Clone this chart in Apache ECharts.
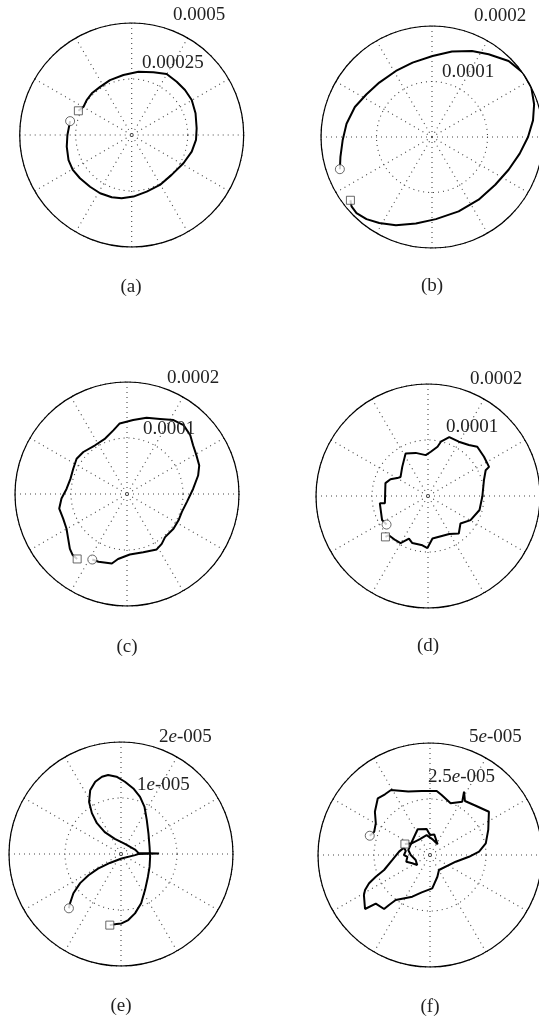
<!DOCTYPE html>
<html><head><meta charset="utf-8">
<script src="https://cdn.jsdelivr.net/npm/echarts@6/dist/echarts.min.js"></script>
<style>html,body{margin:0;padding:0;background:#fff}#chart{width:539px;height:1021px}</style>
</head><body><div id="chart"></div>
<script>
// ---------------- DATA ----------------
const panelNames = ['(a)', '(b)', '(c)', '(d)', '(e)', '(f)'];
const radiusMax = [5e-4, 2e-4, 2e-4, 2e-4, 2e-5, 5e-5];
const outerTickLabels = ['0.0005', '0.0002', '0.0002', '0.0002', '2e-005', '5e-005'];
const innerTickLabels = ['0.00025', '0.0001', '0.0001', '0.0001', '1e-005', '2.5e-005'];
// curve samples given as [real, imaginary] components, in the unit below
const curveUnit = [1e-6, 1e-6, 1e-6, 1e-6, 1e-7, 1e-7];

const curveA = [[-275,62],[-287,0],[-290,-52],[-282,-112],[-263,-156],[-231,-193],[-186,-231],[-141,-260],[-89,-278],[-45,-282],[8,-275],[67,-253],[126,-223],[178,-178],[231,-126],[268,-74],[287,-22],[290,30],[285,97],[268,156],[238,201],[201,238],[156,272],[97,280],[30,282],[-37,268],[-97,245],[-141,215],[-178,186],[-201,156],[-215,126],[-238,108]];

const curveB = [[-166,-58],[-165,-36],[-161,-6],[-154,24],[-139,54],[-118,77],[-95,98],[-65,119],[-35,134],[1,146],[36,154],[72,155],[102,149],[138,137],[164,116],[179,89],[184,59],[182,30],[173,0],[158,-30],[138,-59],[114,-86],[84,-113],[48,-134],[7,-148],[-29,-156],[-65,-159],[-95,-155],[-118,-148],[-136,-137],[-145,-125],[-147,-114]];

const curveC = [[-62,-117],[-51,-121],[-27,-124],[-16,-116],[5,-108],[29,-104],[53,-99],[62,-89],[68,-77],[83,-62],[92,-47],[98,-32],[107,-14],[118,9],[127,33],[129,51],[124,69],[118,87],[113,105],[101,123],[83,132],[59,134],[35,136],[11,132],[-13,126],[-24,114],[-39,99],[-57,87],[-78,75],[-90,63],[-96,45],[-101,27],[-108,9],[-117,-8],[-121,-26],[-114,-44],[-108,-62],[-105,-80],[-102,-98],[-97,-109],[-89,-116]];

const curveD = [[-74,-51],[-82,-43],[-86,-13],[-77,-13],[-76,23],[-67,30],[-55,32],[-49,34],[-46,52],[-40,76],[-22,77],[-4,73],[5,79],[17,88],[23,97],[38,105],[55,97],[73,91],[88,88],[100,70],[109,52],[103,46],[100,29],[97,-1],[92,-25],[76,-43],[58,-49],[55,-67],[38,-68],[8,-76],[-1,-93],[-10,-88],[-28,-84],[-34,-76],[-49,-84],[-58,-79],[-70,-70],[-76,-73]];

const curveE = [[-93,-97],[-91,-88],[-85,-70],[-73,-52],[-58,-38],[-41,-26],[-20,-16],[1,-8],[25,-2],[31,0],[68,1],[31,2],[25,8],[7,18],[-11,27],[-29,39],[-43,55],[-52,73],[-57,93],[-55,114],[-46,129],[-34,138],[-23,141],[-8,138],[7,129],[22,117],[34,102],[42,84],[46,61],[49,37],[51,13],[52,-5],[51,-23],[48,-41],[43,-64],[36,-88],[25,-106],[13,-118],[1,-124],[-8,-125],[-20,-127]];

const curveF = [[-269,86],[-249,104],[-242,142],[-246,193],[-233,253],[-201,271],[-174,290],[-97,283],[-37,286],[30,286],[52,268],[92,231],[144,238],[152,283],[156,241],[204,220],[263,193],[260,112],[249,52],[219,15],[174,-8],[115,-30],[40,-67],[33,-97],[10,-149],[-37,-167],[-79,-186],[-153,-201],[-183,-223],[-205,-241],[-242,-217],[-290,-241],[-295,-179],[-290,-156],[-272,-126],[-242,-97],[-205,-67],[-168,-22],[-138,15],[-116,33],[-108,18],[-116,0],[-101,-8],[-106,-30],[-79,-37],[-57,-45],[-64,-22],[-86,0],[-97,22],[-82,57],[-55,115],[-15,116],[0,89],[19,92],[34,48],[10,71],[-15,89],[-45,71],[-82,52],[-112,49]];

const curves = [curveA, curveB, curveC, curveD, curveE, curveF];

// ---------------- LAYOUT ----------------
const centers = [[131.7,135],[432,137],[127,494],[428,496],[121,854],[430,855]];
const radii = [112,111,112,112,112,112];
const outerLabelPos = [[173,15],[474,16],[167,378],[470,379],[159,737],[469,737]];
const innerLabelPos = [[142,63],[442,72],[143,429],[446,427],[137,785],[428,777]];
const namePos = [[131,287],[432,286],[127,647],[428,646],[121,1006],[430,1007]];

const FONT = "'Liberation Serif', 'DejaVu Serif', serif";
const TXT = '#222';

function toPolar(pts, unit) {
  return pts.map(([x, y]) => {
    let a = Math.atan2(y, x) * 180 / Math.PI;
    if (a < 0) a += 360;
    return [Math.hypot(x, y) * unit, a];
  });
}
function richify(s) { return s.replace('e', '{i|e}'); }

const polar = [], angleAxis = [], radiusAxis = [], series = [], graphic = [];
const dotted = { type: [1, 4], color: '#444', width: 1.1 };

for (let i = 0; i < 6; i++) {
  polar.push({ center: centers[i], radius: radii[i] });
  angleAxis.push({
    polarIndex: i, type: 'value', min: 0, max: 360, interval: 30,
    startAngle: 0, clockwise: false,
    axisLine: { show: true, lineStyle: { color: '#000', width: 1.2 } },
    axisTick: { show: false }, axisLabel: { show: false },
    splitLine: { show: true, lineStyle: dotted }, z: 1
  });
  radiusAxis.push({
    polarIndex: i, type: 'value', min: 0, max: radiusMax[i], interval: radiusMax[i] / 2,
    axisLine: { show: false }, axisTick: { show: false }, axisLabel: { show: false },
    splitLine: { show: true, lineStyle: dotted }
  });
  const d = toPolar(curves[i], curveUnit[i]);
  series.push({
    type: 'line', coordinateSystem: 'polar', polarIndex: i, data: d,
    showSymbol: false, symbol: 'none', smooth: false, animation: false, silent: true,
    lineStyle: { color: '#000', width: 2 }, z: 3
  });
  series.push({
    type: 'scatter', coordinateSystem: 'polar', polarIndex: i, data: [d[0]],
    symbol: 'circle', symbolSize: 9, animation: false, silent: true, z: 4,
    itemStyle: { color: '#fff', borderColor: '#444', borderWidth: 1 }
  });
  series.push({
    type: 'scatter', coordinateSystem: 'polar', polarIndex: i, data: [d[d.length - 1]],
    symbol: 'rect', symbolSize: 8, animation: false, silent: true, z: 4,
    itemStyle: { color: '#fff', borderColor: '#444', borderWidth: 1 }
  });
  const rich = { i: { fontStyle: 'italic', fontSize: 19, fontFamily: FONT, fill: TXT } };
  [[outerTickLabels[i], outerLabelPos[i]], [innerTickLabels[i], innerLabelPos[i]]].forEach(([t, p]) => {
    graphic.push({
      type: 'text', x: p[0], y: p[1], z: 10,
      style: { text: richify(t), fontSize: 19, fontFamily: FONT, fill: TXT,
               align: 'left', verticalAlign: 'middle', rich: rich }
    });
  });
  graphic.push({
    type: 'text', x: namePos[i][0], y: namePos[i][1], z: 10,
    style: { text: panelNames[i], fontSize: 19, fontFamily: FONT, fill: TXT,
             align: 'center', verticalAlign: 'middle' }
  });
}

const chart = echarts.init(document.getElementById('chart'));
chart.setOption({
  backgroundColor: '#fff', animation: false,
  polar, angleAxis, radiusAxis, series, graphic
});
</script></body></html>
